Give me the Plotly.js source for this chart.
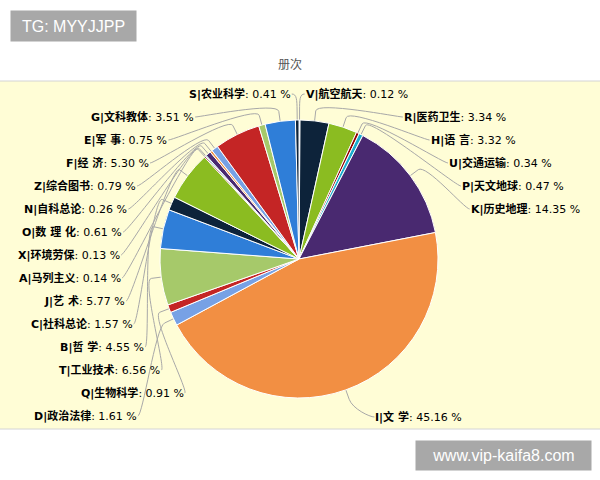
<!DOCTYPE html>
<html><head><meta charset="utf-8">
<script src="https://cdn.plot.ly/plotly-3.0.1.min.js"></script>
<style>html,body{margin:0;padding:0;background:#fff}#chart{width:600px;height:480px}</style>
</head><body><div id="chart"></div>
<script>
// ---- data ----
const codes = ['V','R','H','U','P','K','I','D','Q','T','B','C','J','A','X','O','N','Z','F','E','G','S'];
const names = ['航空航天','医药卫生','语 言','交通运输','天文地球','历史地理','文 学','政治法律','生物科学','工业技术','哲 学','社科总论','艺 术','马列主义','环境劳保','数 理 化','自科总论','综合图书','经 济','军 事','文科教体','农业科学'];
const percents = [0.12,3.34,3.32,0.34,0.47,14.35,45.16,1.61,0.91,6.56,4.55,1.57,5.77,0.14,0.13,0.61,0.26,0.79,5.30,0.75,3.51,0.41];
const chartTitle = '册次';

// ---- style / layout ----
const palette = ['#2f7ed8','#0d233a','#8bbc21','#910000','#1aadce','#492970','#f28f43','#77a1e5','#c42525','#a6c96a'];
const W=600, H=480, CX=299, CY=259, R=139, LD=173, PAD=5, CONN=10, YMIN=94, YMAX=417, SP=23;
const px = x => x/W, py = y => 1 - y/H;

const total = percents.reduce((a,b)=>a+b,0);
let cum = 0;
const pts = percents.map((v,i)=>{
  const th = 2*Math.PI*(cum + v/2)/total; cum += v;
  return {i, th, left: th > Math.PI, natY: CY - LD*Math.cos(th)};
});
function place(side){
  const arr = pts.filter(p=>p.left===side).sort((a,b)=>a.natY-b.natY);
  const n = arr.length;
  for(let k=0;k<n;k++) arr[k].y = Math.max(arr[k].natY, YMIN, k ? arr[k-1].y+SP : -1e9);
  for(let k=n-1;k>=0;k--) arr[k].y = Math.min(arr[k].y, YMAX, k<n-1 ? arr[k+1].y-SP : 1e9);
  const off = yy => { const d = Math.max(-1, Math.min(1, (yy-CY)/LD)); return LD*Math.cos(Math.asin(d)); };
  arr.forEach((p,k)=>{
    let o = off(p.y);
    if(k===0) o = off(p.natY);
    else if(k===n-1) o = Math.max(off(p.natY), o);
    p.x = CX + (side ? -o : o);
  });
}
place(false); place(true);

const shapes = [{type:'rect', xref:'paper', yref:'paper', x0:-0.01, x1:1.01, y0:py(429), y1:py(81),
  fillcolor:'#fffdd6', line:{color:'#d4d4d4', width:1}, layer:'below'}];
const annotations = [];
pts.forEach(p=>{
  const s = p.left ? -1 : 1;
  const tx = p.x + s*PAD;
  const ex = CX + R*Math.sin(p.th), ey = CY - R*Math.cos(p.th);
  const bx = CX + (R+CONN)*Math.sin(p.th), by = CY - (R+CONN)*Math.cos(p.th);
  const c2x = 2*bx - ex, c2y = 2*by - ey;
  shapes.push({type:'path', xref:'paper', yref:'paper', layer:'below',
    path:`M ${px(tx)},${py(p.y)} C ${px(p.x)},${py(p.y)} ${px(c2x)},${py(c2y)} ${px(bx)},${py(by)} L ${px(ex)},${py(ey)}`,
    line:{color:'#a8a8a8', width:1}});
  annotations.push({xref:'paper', yref:'paper', x:px(tx), y:py(p.y), xanchor: p.left?'right':'left', yanchor:'middle',
    showarrow:false, borderpad:0,
    text:`<b>${codes[p.i]}|${names[p.i]}</b>: ${percents[p.i].toFixed(2)} %`,
    font:{family:'DejaVu Sans, Noto Sans CJK SC, sans-serif', size:11, color:'#000'}});
});
annotations.push({xref:'paper', yref:'paper', x:px(10), y:py(10), xanchor:'left', yanchor:'top', width:125, height:30,
  bgcolor:'#a8a8a8', borderpad:0, showarrow:false, text:'TG: MYYJJPP', align:'center', valign:'middle',
  font:{family:'Liberation Sans, Arial, sans-serif', size:16, color:'#fff'}});
annotations.push({xref:'paper', yref:'paper', x:px(415), y:py(440), xanchor:'left', yanchor:'top', width:175, height:29,
  bgcolor:'#a8a8a8', borderpad:0, showarrow:false, text:'www.vip-kaifa8.com', align:'center', valign:'middle',
  font:{family:'Liberation Sans, Arial, sans-serif', size:16, color:'#fff'}});

const trace = {
  type:'pie', values:percents, labels:codes.map((c,i)=>c+'|'+names[i]),
  sort:false, direction:'clockwise', rotation:0, textinfo:'none', hoverinfo:'label+percent',
  marker:{colors:percents.map((_,i)=>palette[i%palette.length]), line:{color:'#ffffff', width:1}},
  domain:{x:[(CX-R)/W, (CX+R)/W], y:[(H-CY-R)/H, (H-CY+R)/H]},
  showlegend:false
};
const layout = {
  width:W, height:H, margin:{l:0,r:0,t:0,b:0}, paper_bgcolor:'#fff',
  title:{text:chartTitle, xref:'container', yref:'container', x:px(290), y:py(65), xanchor:'center', yanchor:'middle',
    font:{family:'Noto Sans CJK SC, sans-serif', size:12, color:'#555'}},
  shapes, annotations, showlegend:false
};
Plotly.newPlot('chart', [trace], layout, {displayModeBar:false, staticPlot:true});
</script></body></html>
